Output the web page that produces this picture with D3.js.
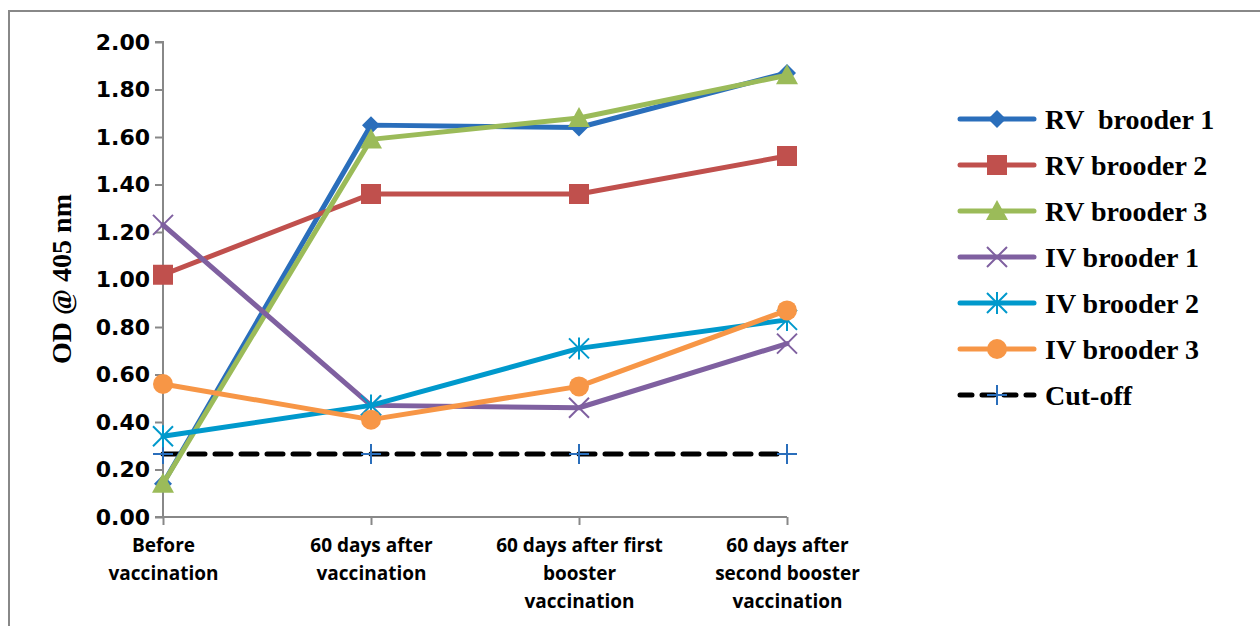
<!DOCTYPE html>
<html>
<head>
<meta charset="utf-8">
<script src="https://cdn.jsdelivr.net/npm/d3@7"></script>
<style>
  body { margin: 0; background: #fff; }
</style>
</head>
<body>
<div id="chart"></div>
<script>
var categories = [["Before", "vaccination"], ["60 days after", "vaccination"], ["60 days after first", "booster", "vaccination"], ["60 days after", "second booster", "vaccination"]];
var seriesNames = ["RV  brooder 1", "RV brooder 2", "RV brooder 3", "IV brooder 1", "IV brooder 2", "IV brooder 3", "Cut-off"];
var rv1 = [0.14, 1.65, 1.64, 1.87];
var rv2 = [1.02, 1.36, 1.36, 1.52];
var rv3 = [0.14, 1.59, 1.68, 1.86];
var iv1 = [1.23, 0.47, 0.46, 0.73];
var iv2 = [0.34, 0.47, 0.71, 0.83];
var iv3 = [0.56, 0.41, 0.55, 0.87];
var cutoff = [0.265, 0.265, 0.265, 0.265];
var yTicks = [0, 0.2, 0.4, 0.6, 0.8, 1.0, 1.2, 1.4, 1.6, 1.8, 2.0];

var colors = ["#2a6ebb", "#c0504d", "#9bbb59", "#7f60a0", "#0099cc", "#f79646", "#000000"];
var markers = ["diamond", "square", "triangle", "x", "star", "circle", "plus"];
var allData = [rv1, rv2, rv3, iv1, iv2, iv3, cutoff];

var svg = d3.select("#chart").append("svg").attr("width", 1260).attr("height", 626);

// outer frame (top & left only visible)
svg.append("path").attr("d", "M9,626 L9,11 L1260,11")
  .attr("fill", "none").attr("stroke", "#888").attr("stroke-width", 2);

var x = d3.scalePoint().domain(d3.range(categories.length)).range([163, 787]);
var y = d3.scaleLinear().domain([0, 2]).range([517, 42]);

var axisColor = "#888";

// y axis
var yAxis = svg.append("g").attr("transform", "translate(163,0)")
  .call(d3.axisLeft(y).tickValues(yTicks).tickSize(8).tickPadding(5).tickFormat(d3.format(".2f")));
yAxis.select(".domain").attr("stroke", axisColor).attr("stroke-width", 2).attr("d", "M-8,42H0V517H-8");
yAxis.selectAll(".tick line").attr("stroke", axisColor).attr("stroke-width", 2);
yAxis.selectAll(".tick text").attr("fill", "#000")
  .style("font-family", "'DejaVu Sans', Verdana, sans-serif").style("font-weight", "bold").style("font-size", "22px");

// x axis
var xAxis = svg.append("g").attr("transform", "translate(0,517)")
  .call(d3.axisBottom(x).tickSize(8).tickFormat(""));
xAxis.select(".domain").attr("stroke", axisColor).attr("stroke-width", 2).attr("d", "M163,0H787");
xAxis.selectAll(".tick line").attr("stroke", axisColor).attr("stroke-width", 2);
xAxis.selectAll(".tick").each(function(d) {
  var t = d3.select(this).append("text").attr("fill", "#000").attr("text-anchor", "middle")
    .style("font-family", "'Liberation Sans Narrow', 'Open Sans', sans-serif")
    .style("font-weight", "bold").style("font-size", "19px");
  categories[d].forEach(function(line, i) {
    t.append("tspan").attr("x", 0).attr("y", 35 + i * 28).text(line);
  });
});

// y title
svg.append("text").attr("transform", "translate(71,279) rotate(-90)")
  .attr("text-anchor", "middle")
  .style("font-family", "'Liberation Serif', 'Times New Roman', serif")
  .style("font-weight", "bold").style("font-size", "28px")
  .text("OD @ 405 nm");

function drawMarker(g, type, color, cx, cy) {
  if (type === "diamond") {
    g.append("path").attr("d", "M" + cx + "," + (cy - 9) + "L" + (cx + 9) + "," + cy + "L" + cx + "," + (cy + 9) + "L" + (cx - 9) + "," + cy + "Z").attr("fill", color);
  } else if (type === "square") {
    g.append("rect").attr("x", cx - 10).attr("y", cy - 10).attr("width", 20).attr("height", 20).attr("fill", color);
  } else if (type === "triangle") {
    g.append("path").attr("d", "M" + cx + "," + (cy - 11) + "L" + (cx + 11) + "," + (cy + 9) + "L" + (cx - 11) + "," + (cy + 9) + "Z").attr("fill", color);
  } else if (type === "circle") {
    g.append("circle").attr("cx", cx).attr("cy", cy).attr("r", 10).attr("fill", color);
  } else if (type === "x") {
    g.append("path").attr("d", "M" + (cx - 10) + "," + (cy - 10) + "L" + (cx + 10) + "," + (cy + 10) + "M" + (cx + 10) + "," + (cy - 10) + "L" + (cx - 10) + "," + (cy + 10))
      .attr("stroke", color).attr("stroke-width", 2);
  } else if (type === "star") {
    g.append("path").attr("d", "M" + (cx - 10) + "," + (cy - 10) + "L" + (cx + 10) + "," + (cy + 10) + "M" + (cx + 10) + "," + (cy - 10) + "L" + (cx - 10) + "," + (cy + 10) + "M" + cx + "," + (cy - 11) + "L" + cx + "," + (cy + 11))
      .attr("stroke", color).attr("stroke-width", 2);
  } else if (type === "plus") {
    g.append("path").attr("d", "M" + (cx - 10) + "," + cy + "L" + (cx + 10) + "," + cy + "M" + cx + "," + (cy - 10) + "L" + cx + "," + (cy + 10))
      .attr("stroke", "#2a6ebb").attr("stroke-width", 2);
  }
}

var line = d3.line().x(function(d, i) { return x(i); }).y(function(d) { return y(d); });

// draw in order: cutoff first then series
var order = [6, 0, 1, 2, 3, 4, 5];
order.forEach(function(s) {
  var g = svg.append("g");
  g.append("path").datum(allData[s]).attr("d", line)
    .attr("fill", "none").attr("stroke", colors[s])
    .attr("stroke-width", 5)
    .attr("stroke-dasharray", s === 6 ? "16,10" : null)
    .attr("stroke-linecap", "round")
    .attr("stroke-linejoin", "round");
  allData[s].forEach(function(v, i) { drawMarker(g, markers[s], colors[s], x(i), y(v)); });
});

// legend
var legend = svg.append("g");
seriesNames.forEach(function(name, i) {
  var ly = 119 + i * 46;
  var g = legend.append("g");
  g.append("line").attr("x1", 960).attr("x2", 1034).attr("y1", ly).attr("y2", ly)
    .attr("stroke", colors[i]).attr("stroke-width", 5)
    .attr("stroke-linecap", "round")
    .attr("stroke-dasharray", i === 6 ? "12,10" : null);
  drawMarker(g, markers[i], colors[i], 997, ly);
  g.append("text").attr("x", 1045).attr("y", ly + 10)
    .style("font-family", "'Liberation Serif', 'Times New Roman', serif")
    .style("font-weight", "bold").style("font-size", "28px")
    .style("white-space", "pre")
    .text(name);
});
</script>
</body>
</html>
